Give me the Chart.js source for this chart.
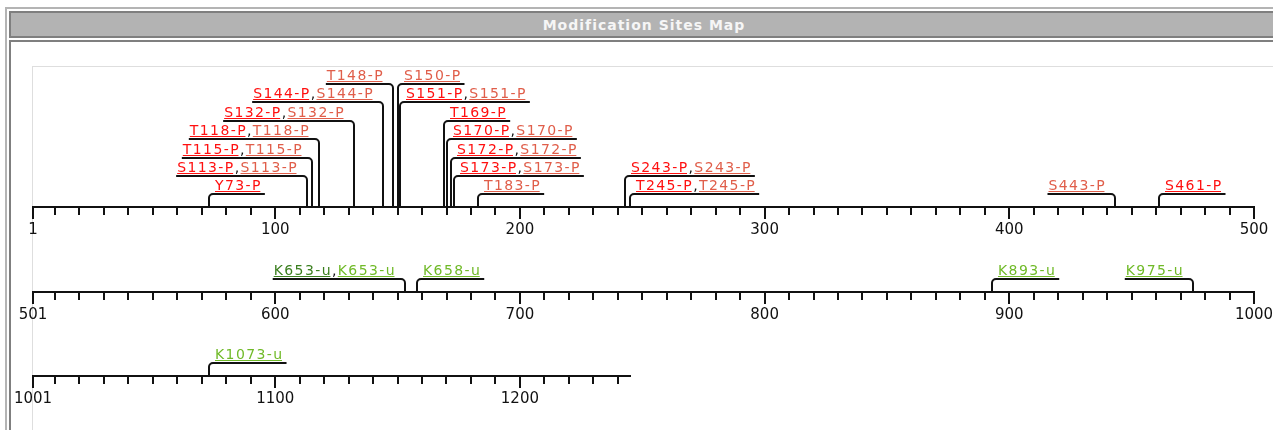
<!DOCTYPE html>
<html><head><meta charset="utf-8">
<script src="https://cdn.jsdelivr.net/npm/chart.js@4.4.1/dist/chart.umd.min.js"></script>
<style>
html,body{margin:0;padding:0;background:#fff;width:1273px;height:430px;overflow:hidden;position:relative;}
#outer{position:absolute;left:5px;top:7px;width:1400px;height:600px;border-left:2px solid #b4b4b4;border-top:2px solid #b4b4b4;}
#titleBox{position:absolute;left:9px;top:11px;width:1400px;height:23px;border:2px solid #7f7f7f;background:#b3b3b3;}
#titleText{position:absolute;left:0;top:17px;width:1288px;height:18px;line-height:18px;text-align:center;color:#f6f6f6;font:bold 14px "DejaVu Sans",sans-serif;letter-spacing:1px;}
#content{position:absolute;left:9px;top:40px;width:1400px;height:600px;border-left:2px solid #7f7f7f;border-top:2px solid #7f7f7f;}
#panel{position:absolute;left:32px;top:66px;width:1400px;height:600px;border-left:1px solid #dedede;border-top:1px solid #dedede;}
canvas{position:absolute;left:0;}
</style></head>
<body>
<div id="outer"></div>
<div id="titleBox"></div>
<div id="titleText">Modification Sites Map</div>
<div id="content"></div>
<div id="panel"></div>
<canvas id="row1" width="1320" height="187" style="top:60px;width:1320px;height:187px"></canvas>
<canvas id="row2" width="1320" height="86" style="top:246px;width:1320px;height:86px"></canvas>
<canvas id="row3" width="1320" height="86" style="top:330px;width:1320px;height:86px"></canvas>
<script>
// ---- data ----
const sitePositions = [73,113,115,118,132,144,148,150,151,169,170,172,173,183,243,245,443,461,653,658,893,975,1073];
const siteNames = ['Y73-P','S113-P','T115-P','T118-P','S132-P','S144-P','T148-P','S150-P','S151-P','T169-P','S170-P','S172-P','S173-P','T183-P','S243-P','T245-P','S443-P','S461-P','K653-u','K658-u','K893-u','K975-u','K1073-u'];
const siteLevels = [1,2,3,4,5,6,7,7,6,5,4,3,2,1,2,1,1,1,1,1,1,1,1];
const siteSides = ['R','L','L','L','L','L','L','R','R','R','R','R','R','R','R','R','L','R','L','R','R','L','R'];
const firstPartKinds = ['red','red','red','red','red','red','coral','coral','red','red','red','red','red','coral','red','red','coral','red','dkgreen','ltgreen','ltgreen','ltgreen','ltgreen'];
const secondPartKinds = ['','coral','coral','coral','coral','coral','','','coral','','coral','coral','coral','','coral','coral','','','ltgreen','','','',''];
const rowStarts = [1,501,1001];
const rowEnds = [500,1000,1245];
const rowLastTicks = [500,1000,1240];
const majorTickLabels = [[1,100,200,300,400,500],[501,600,700,800,900,1000],[1001,1100,1200]];
const minorStep = 10;

// ---- styles ----
const kindColors = {red:'#ff1010', coral:'#e05e4a', dkgreen:'#3b7f1f', ltgreen:'#70ba28'};
const PX_PER_LEVEL = 18.4;
const LEVEL_BASE = 0.31;
const LABEL_FONT = '14px "DejaVu Sans", sans-serif';
const LABEL_SPACING = '1.4px';
const rowGeom = [
  {id:'row1', padTop:6, areaH:141, padRight:1320-1254},
  {id:'row2', padTop:0, areaH:46, padRight:1320-1254},
  {id:'row3', padTop:0, areaH:46, padRight:1320-630}
];

function rowTicks(r){
  const t=[rowStarts[r]];
  let v=Math.ceil((rowStarts[r]+1)/minorStep)*minorStep;
  for(;v<=rowLastTicks[r];v+=minorStep) t.push(v);
  return t;
}

function makePlugin(r, idxs){
  return {
    id:'siteLabels'+r,
    beforeDraw(chart){ chart.ctx.letterSpacing='0px'; },
    afterDraw(chart){
      const ctx=chart.ctx, xs=chart.scales.x;
      const axisY=Math.round(xs.top);
      ctx.save();
      ctx.strokeStyle='#111'; ctx.lineWidth=2; ctx.lineCap='butt';
      // longer major ticks
      majorTickLabels[r].forEach(v=>{
        const x=Math.round(xs.getPixelForValue(v)-1)+1;
        ctx.beginPath(); ctx.moveTo(x,axisY+7); ctx.lineTo(x,axisY+12); ctx.stroke();
      });
      const meta=chart.getDatasetMeta(0);
      ctx.letterSpacing=LABEL_SPACING;
      ctx.font=LABEL_FONT; ctx.textBaseline='alphabetic'; ctx.textAlign='left';
      meta.data.forEach((pt,k)=>{
        const i=idxs[k];
        const parts=[{t:siteNames[i],c:kindColors[firstPartKinds[i]],u:true}];
        if(secondPartKinds[i]){
          parts.push({t:',',c:'#111',u:false});
          parts.push({t:siteNames[i],c:kindColors[secondPartKinds[i]],u:true});
        }
        parts.forEach(p=>p.w=ctx.measureText(p.t).width);
        const W=parts.reduce((s,p)=>s+p.w,0);
        const x=Math.round(pt.x), L=Math.round(pt.y), rad=4;
        let tx, lx0, lx1;
        if(siteSides[i]==='R'){ tx=x+6; lx0=x; lx1=tx+W+3; }
        else { tx=x-9-W; lx0=tx-1; lx1=x; }
        ctx.beginPath();
        if(siteSides[i]==='R'){
          ctx.moveTo(x,axisY); ctx.lineTo(x,L+rad); ctx.arcTo(x,L,x+rad,L,rad); ctx.lineTo(lx1,L);
        } else {
          ctx.moveTo(lx0,L); ctx.lineTo(x-rad,L); ctx.arcTo(x,L,x,L+rad,rad); ctx.lineTo(x,axisY);
        }
        ctx.stroke();
        let cx=tx;
        parts.forEach(p=>{
          ctx.fillStyle=p.c;
          ctx.fillText(p.t,cx,L-4.5);
          if(p.u) ctx.fillRect(cx,L-3,p.w-1.5,1);
          cx+=p.w;
        });
      });
      ctx.restore();
    }
  };
}

rowGeom.forEach((g,r)=>{
  const idxs=[];
  sitePositions.forEach((p,i)=>{ if(p>=rowStarts[r] && p<=rowEnds[r]) idxs.push(i); });
  const pts=idxs.map(i=>({x:sitePositions[i], y:siteLevels[i]}));
  const ticks=rowTicks(r);
  const majors=majorTickLabels[r];
  new Chart(document.getElementById(g.id),{
    type:'scatter',
    data:{datasets:[{data:pts,pointRadius:0,pointHoverRadius:0,showLine:false}]},
    options:{
      responsive:false, animation:false, devicePixelRatio:1, events:[],
      layout:{padding:{left:33,right:g.padRight,top:g.padTop,bottom:0}},
      plugins:{legend:{display:false},tooltip:{enabled:false}},
      scales:{
        x:{type:'linear',position:'bottom',min:rowStarts[r],max:rowEnds[r],
          afterBuildTicks:s=>{ s.ticks=ticks.map(v=>({value:v})); },
          afterFit:s=>{ s.height=40; },
          grid:{display:true,drawOnChartArea:false,drawTicks:true,tickLength:8,tickWidth:2,tickColor:'#111',lineWidth:2,color:'#111'},
          border:{display:true,color:'#111',width:2},
          ticks:{autoSkip:false,maxRotation:0,minRotation:0,padding:6,color:'#111',
            font:{family:'"DejaVu Sans", sans-serif',size:15},
            callback:v=>majors.includes(v)?String(v):''}
        },
        y:{display:false,min:LEVEL_BASE,max:LEVEL_BASE+g.areaH/PX_PER_LEVEL}
      }
    },
    plugins:[makePlugin(r,idxs)]
  });
});
</script>
</body></html>
